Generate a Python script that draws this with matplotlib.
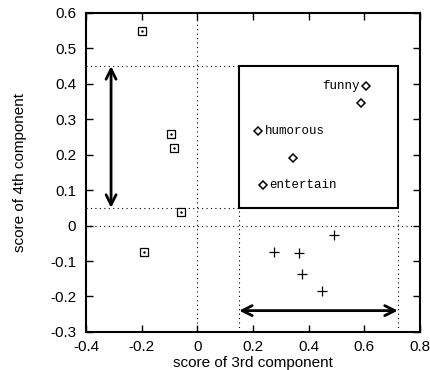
import numpy as np
import matplotlib.pyplot as plt
from matplotlib.patches import Rectangle

# Data
sq_x = [-0.200, -0.096, -0.083, -0.059, -0.190]
sq_y = [0.549, 0.258, 0.218, 0.039, -0.074]

dia_x = [0.605, 0.587, 0.219, 0.345, 0.237]
dia_y = [0.394, 0.345, 0.268, 0.192, 0.115]
dia_labels = ['funny', '', 'humorous', '', 'entertain']

plus_x = [0.492, 0.274, 0.366, 0.375, 0.447]
plus_y = [-0.028, -0.075, -0.078, -0.136, -0.184]

xticks = [-0.4, -0.2, 0, 0.2, 0.4, 0.6, 0.8]
yticks = [-0.3, -0.2, -0.1, 0, 0.1, 0.2, 0.3, 0.4, 0.5, 0.6]

# box region / bracket values
box_x0, box_x1 = 0.15, 0.72
box_y0, box_y1 = 0.05, 0.45
varrow_x = -0.31
harrow_y = -0.24

plt.rcParams['font.family'] = ['Liberation Sans', 'DejaVu Sans']

fig = plt.figure(figsize=(4.3, 3.7), dpi=100)
ax = fig.add_axes([0.2, 0.103, 0.777, 0.862])
ax.set_xlim(-0.4, 0.8)
ax.set_ylim(-0.3, 0.6)

dot = (0, (1, 3))
ax.axhline(0, color='k', lw=0.8, ls=dot)
ax.axvline(0, color='k', lw=0.8, ls=dot)
for yy in (box_y0, box_y1):
    ax.plot([-0.4, box_x0], [yy, yy], color='k', lw=0.8, ls=dot)
for xx in (box_x0, box_x1):
    ax.plot([xx, xx], [-0.3, box_y0], color='k', lw=0.8, ls=dot)

ax.add_patch(Rectangle((box_x0, box_y0), box_x1 - box_x0, box_y1 - box_y0,
                       fill=False, ec='k', lw=1.5, zorder=3))

# points
ax.plot(sq_x, sq_y, 's', ms=6, mfc='none', mec='k', mew=0.9)
ax.plot(sq_x, sq_y, '.', ms=1.5, color='k')
ax.plot(dia_x, dia_y, 'D', ms=4.5, mfc='none', mec='k', mew=1.1)
ax.plot(plus_x, plus_y, '+', ms=7, color='k', mew=0.9)

lab_font = dict(family=['Liberation Mono', 'DejaVu Sans Mono'], fontsize=9)
ax.text(dia_x[0] - 0.022, dia_y[0], dia_labels[0], ha='right', va='center', **lab_font)
ax.text(dia_x[2] + 0.022, dia_y[2], dia_labels[2], ha='left', va='center', **lab_font)
ax.text(dia_x[4] + 0.022, dia_y[4], dia_labels[4], ha='left', va='center', **lab_font)

# double arrows
arr = dict(arrowstyle='<->', lw=2, color='k', mutation_scale=18, shrinkA=0, shrinkB=0)
ax.annotate('', xy=(varrow_x, box_y1), xytext=(varrow_x, box_y0), arrowprops=arr)
ax.annotate('', xy=(box_x0, harrow_y), xytext=(box_x1, harrow_y), arrowprops=arr)

ax.set_xticks(xticks)
ax.set_yticks(yticks)
ax.set_xticklabels(['-0.4', '-0.2', '0', '0.2', '0.4', '0.6', '0.8'])
ax.set_yticklabels(['-0.3', '-0.2', '-0.1', '0', '0.1', '0.2', '0.3', '0.4', '0.5', '0.6'])
ax.tick_params(direction='in', length=5, width=1, top=True, right=True, labelsize=11)
ax.tick_params(axis='x', pad=6)
ax.tick_params(axis='y', pad=7)
for s in ax.spines.values():
    s.set_linewidth(1.5)

ax.set_xlabel('score of 3rd component', fontsize=11, labelpad=1)
ax.set_ylabel('score of 4th component', fontsize=11, labelpad=17)

fig.savefig('out.png', dpi=100)
